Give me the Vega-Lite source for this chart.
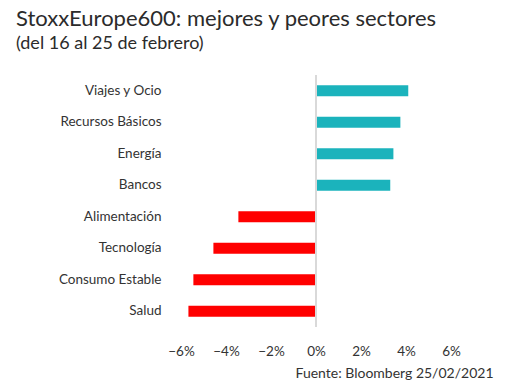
{
  "$schema": "https://vega.github.io/schema/vega-lite/v6.json",
  "autosize": "none",
  "width": 270,
  "height": 252,
  "padding": {"left": 181, "top": 75, "right": 63, "bottom": 62},
  "background": "white",
  "title": {
    "text": "StoxxEurope600: mejores y peores sectores",
    "subtitle": "(del 16 al 25 de febrero)",
    "anchor": "start",
    "frame": "group",
    "dx": -165,
    "offset": 20,
    "font": "Lato",
    "fontSize": 22,
    "fontWeight": "normal",
    "color": "#2b2b2b",
    "subtitleFont": "Lato",
    "subtitleFontSize": 18,
    "subtitleColor": "#2b2b2b",
    "subtitlePadding": 4
  },
  "data": {
    "values": [
      {"sector": "Viajes y Ocio", "valor": 4.1, "tipo": "mejor"},
      {"sector": "Recursos Básicos", "valor": 3.75, "tipo": "mejor"},
      {"sector": "Energía", "valor": 3.44, "tipo": "mejor"},
      {"sector": "Bancos", "valor": 3.3, "tipo": "mejor"},
      {"sector": "Alimentación", "valor": -3.45, "tipo": "peor"},
      {"sector": "Tecnología", "valor": -4.56, "tipo": "peor"},
      {"sector": "Consumo Estable", "valor": -5.45, "tipo": "peor"},
      {"sector": "Salud", "valor": -5.67, "tipo": "peor"}
    ]
  },
  "layer": [
    {
      "mark": {"type": "bar"},
      "encoding": {
        "y": {
          "field": "sector",
          "type": "nominal",
          "sort": null,
          "scale": {"paddingInner": 0.65, "paddingOuter": 0.325},
          "axis": {
            "title": null,
            "domain": false,
            "ticks": false,
            "labelPadding": 20,
            "labelFont": "Lato",
            "labelFontSize": 13.5,
            "labelColor": "#333333"
          }
        },
        "x": {
          "field": "valor",
          "type": "quantitative",
          "scale": {"domain": [-6, 6], "nice": false},
          "axis": {
            "values": [-6, -4, -2, 0, 2, 4, 6],
            "labelExpr": "format(datum.value, 'd') + '%'",
            "labelFlush": false,
            "labelOverlap": false,
            "grid": false,
            "domain": false,
            "ticks": false,
            "labelPadding": 17,
            "labelFont": "Lato",
            "labelFontSize": 13.5,
            "labelColor": "#333333",
            "title": "Fuente: Bloomberg 25/02/2021",
            "titleFont": "Lato",
            "titleFontSize": 14,
            "titleFontWeight": "normal",
            "titleColor": "#333333",
            "titleAlign": "right",
            "titleAnchor": "end",
            "titleX": 312,
            "titleY": 50,
            "titleBaseline": "alphabetic"
          }
        },
        "color": {
          "field": "tipo",
          "type": "nominal",
          "scale": {"domain": ["mejor", "peor"], "range": ["#1bb3bc", "#ff0000"]},
          "legend": null
        }
      }
    },
    {
      "data": {"values": [{"cero": 0}]},
      "mark": {"type": "rule", "color": "#d9d9d9", "strokeWidth": 2},
      "encoding": {"x": {"field": "cero", "type": "quantitative"}}
    }
  ],
  "config": {"view": {"stroke": null}}
}
